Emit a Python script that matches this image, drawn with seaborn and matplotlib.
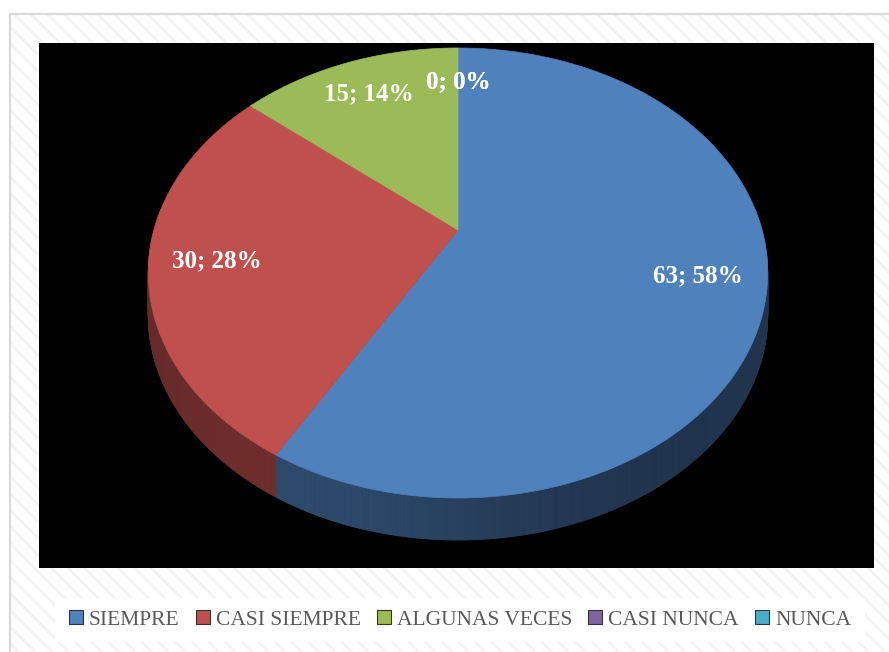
import numpy as np
import matplotlib
matplotlib.use("Agg")
import matplotlib.pyplot as plt
from matplotlib.patches import Polygon, Rectangle, Patch
from matplotlib.collections import PolyCollection
from matplotlib.lines import Line2D
import seaborn as sns

# ---- data ----
categories = ["SIEMPRE", "CASI SIEMPRE", "ALGUNAS VECES", "CASI NUNCA", "NUNCA"]
counts = [63, 30, 15, 0, 0]
percents = [58, 28, 14, 0, 0]
slice_colors = ["#4F81BD", "#C0504D", "#9BBB59", "#8064A2", "#4BACC6"]

sns.set_theme(style="white")
palette = sns.color_palette(slice_colors)
plt.rcParams["hatch.linewidth"] = 2.0
plt.rcParams["font.family"] = ["Liberation Serif", "DejaVu Serif"]

W, H = 889, 652
fig = plt.figure(figsize=(W / 100, H / 100), dpi=100)
ax = fig.add_axes([0, 0, 1, 1])
ax.set_xlim(0, W)
ax.set_ylim(H, 0)
ax.axis("off")

# chart frame with a faint diagonal texture
ax.add_patch(Rectangle((10, 14), W, H, facecolor="white", edgecolor="none", zorder=0))
ax.add_patch(Rectangle((10, 14), W, H, facecolor="none", edgecolor="#f3f3f3",
                       hatch="\\\\", lw=0, zorder=0.5))
ax.add_line(Line2D([10, 10], [14, H], color="#d9d9d9", lw=1.5, zorder=1))
ax.add_line(Line2D([10, W], [14, 14], color="#d9d9d9", lw=1.5, zorder=1))

# plot area
ax.add_patch(Rectangle((39, 43), 835, 525, facecolor="black", edgecolor="none", zorder=1))
# legend box
ax.add_patch(Rectangle((55, 598), 810, 44, facecolor="white", edgecolor="none", zorder=1))

# ---- 3D pie in perspective ----
cx, cy = 458.0, 230.0      # projected centre of the disc
ax_r, ay_r = 304.0, 216.8  # horizontal / vertical scale
k = 0.191                  # perspective foreshortening
depth = 42.0               # thickness of the disc


def proj(theta, r=1.0):
    u = r * np.cos(theta)
    v = r * np.sin(theta)
    d = 1.0 + k * v
    return cx + ax_r * u / d, cy - ay_r * v / d


total = float(sum(counts))
fracs = [c / total for c in counts]
starts = []
a0 = np.pi / 2
for f in fracs:
    starts.append((a0, a0 - 2 * np.pi * f))
    a0 -= 2 * np.pi * f


def side_shade(x):
    return 0.40 + 0.18 * np.exp(-((x - 290.0) / 230.0) ** 2)


# disc sides (front half)
for (t0, t1), col, f in zip(starts, palette, fracs):
    if f <= 0:
        continue
    th = np.linspace(t0, t1, max(int(abs(t1 - t0) / 0.004), 4))
    xs, ys = proj(th)
    quads, cols = [], []
    base = np.array(col)
    for i in range(len(th) - 1):
        if np.sin(th[i]) > 0.1 and np.sin(th[i + 1]) > 0.1:
            continue
        quads.append([(xs[i], ys[i]), (xs[i + 1], ys[i + 1]),
                      (xs[i + 1], ys[i + 1] + depth), (xs[i], ys[i] + depth)])
        xm = 0.5 * (xs[i] + xs[i + 1])
        cols.append(tuple(np.clip(base * side_shade(xm), 0, 1)))
    if quads:
        pc = PolyCollection(quads, facecolors=cols, edgecolors=cols, linewidths=0.6, zorder=2)
        ax.add_collection(pc)

# top faces
for (t0, t1), col, f in zip(starts, palette, fracs):
    if f <= 0:
        continue
    th = np.linspace(t0, t1, 400)
    xs, ys = proj(th)
    pts = [(cx, cy)] + list(zip(xs, ys))
    ax.add_patch(Polygon(pts, closed=True, facecolor=col, edgecolor=col, lw=0.5, zorder=3))

# data labels "value; percent"
for (t0, t1), c, p in zip(starts, counts, percents):
    tm = 0.5 * (t0 + t1)
    lx, ly = proj(tm, 0.785)
    ax.text(lx, ly, f"{c}; {p}%", color="white", fontsize=18, fontweight="bold",
            ha="center", va="center", zorder=5)

# legend
handles = [Patch(facecolor=c, edgecolor="#333333", lw=0.8) for c in palette]
leg = fig.legend(handles, categories, loc="center", bbox_to_anchor=(460 / W, 1 - 620 / H),
                 ncol=5, frameon=False, fontsize=15.5, handlelength=0.65, handleheight=0.65,
                 handletextpad=0.28, columnspacing=0.75, borderpad=0)
for t in leg.get_texts():
    t.set_color("#595959")

fig.savefig("out.png", dpi=100)
